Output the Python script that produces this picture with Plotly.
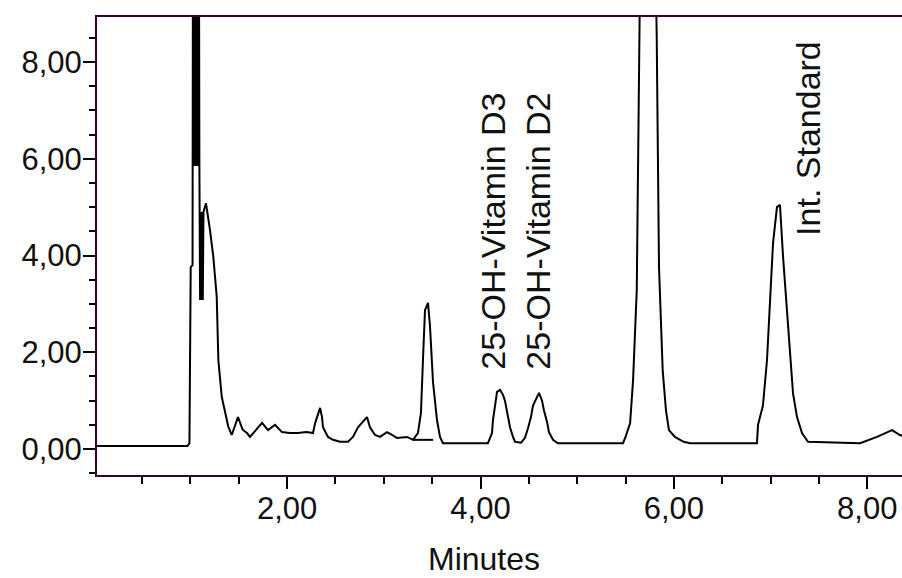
import plotly.graph_objects as go

# Chromatogram trace (minutes, signal)
time_min = [
    0.00, 0.97, 0.99, 1.003, 1.022,
    1.027, 1.033, 1.039, 1.045, 1.051, 1.057, 1.063, 1.069, 1.075, 1.081, 1.087, 1.093,
    1.100, 1.107, 1.114, 1.121, 1.128, 1.135, 1.161, 1.203, 1.237, 1.272, 1.289, 1.324,
    1.358, 1.392, 1.427, 1.492, 1.540, 1.585, 1.616, 1.741, 1.803, 1.875, 1.947, 2.030,
    2.113, 2.200, 2.268, 2.289, 2.341, 2.361, 2.371, 2.423, 2.475, 2.547, 2.630, 2.681,
    2.733, 2.826, 2.857, 2.909, 2.961, 3.033, 3.085, 3.136, 3.240, 3.302, 3.353, 3.384,
    3.405, 3.426, 3.457, 3.477, 3.509, 3.550, 3.581, 3.612,
    4.077, 4.119, 4.129, 4.150, 4.171, 4.202, 4.233, 4.253, 4.274, 4.305, 4.336, 4.357,
    4.420, 4.460, 4.491, 4.522, 4.543, 4.584, 4.605, 4.636, 4.656, 4.688, 4.708, 4.750,
    4.800,
    5.474, 5.500, 5.547, 5.578, 5.616, 5.640, 5.667, 5.720, 5.770, 5.800, 5.822, 5.846,
    5.884, 5.918, 5.949, 6.011, 6.100, 6.167,
    6.859, 6.870, 6.921, 6.963, 6.994, 7.025, 7.066, 7.097, 7.128, 7.170, 7.201, 7.232,
    7.273, 7.325, 7.387, 7.925, 8.101, 8.256, 8.337, 8.400,
]
signal = [
    0.06, 0.06, 0.12, 3.76, 3.80,
    12.0, 5.85, 12.0, 5.85, 12.0, 5.85, 12.0, 5.85, 12.0, 5.85, 12.0, 5.83,
    3.08, 4.90, 3.08, 4.90, 3.08, 4.90, 5.08, 4.52, 3.97, 3.15, 1.84, 1.08,
    0.74, 0.46, 0.29, 0.66, 0.40, 0.33, 0.25, 0.54, 0.39, 0.50, 0.35, 0.33,
    0.33, 0.35, 0.33, 0.53, 0.85, 0.66, 0.45, 0.25, 0.19, 0.15, 0.15, 0.25,
    0.45, 0.66, 0.45, 0.29, 0.25, 0.35, 0.29, 0.23, 0.25, 0.19, 0.33, 0.74,
    1.84, 2.87, 3.02, 2.56, 1.38, 0.60, 0.25, 0.12,
    0.12, 0.33, 0.60, 0.95, 1.18, 1.22, 1.12, 1.00, 0.77, 0.45, 0.25, 0.15,
    0.13, 0.23, 0.43, 0.66, 0.90, 1.07, 1.16, 1.00, 0.80, 0.56, 0.35, 0.19,
    0.12,
    0.12, 0.25, 0.53, 1.43, 3.29, 7.35, 13.0, 17.0, 16.0, 11.0, 8.60, 3.76,
    1.63, 0.80, 0.39, 0.25, 0.15, 0.12,
    0.12, 0.50, 0.90, 1.84, 2.97, 4.25, 5.00, 5.05, 4.00, 2.90, 1.90, 1.15,
    0.66, 0.33, 0.15, 0.12, 0.25, 0.39, 0.29, 0.25,
]

# Integration baseline drawn under the 3.45 min peak
base_x = [3.30, 3.51]
base_y = [0.19, 0.19]

# Peak labels
peak_labels = ["25-OH-Vitamin D3", "25-OH-Vitamin D2", "Int. Standard"]
label_x = [4.13, 4.595, 7.38]
label_y = [1.59, 1.59, 4.36]

x_tickvals = [2, 4, 6, 8]
y_tickvals = [0, 2, 4, 6, 8]
x_range = [0.034, 8.359]
y_range = [-0.537, 8.93]

FONT = "Liberation Sans, Arial, sans-serif"
AXIS_COLOR = "#330033"
TEXT_COLOR = "#111111"

fig = go.Figure()
fig.add_trace(go.Scatter(x=time_min, y=signal, mode="lines",
                         line=dict(color="black", width=2), hoverinfo="skip"))
fig.add_trace(go.Scatter(x=base_x, y=base_y, mode="lines",
                         line=dict(color="black", width=2), hoverinfo="skip"))

for txt, lx, ly in zip(peak_labels, label_x, label_y):
    fig.add_annotation(x=lx, y=ly, xref="x", yref="y", text=txt, showarrow=False,
                       textangle=-90, xanchor="center", yanchor="bottom",
                       font=dict(family=FONT, size=34, color=TEXT_COLOR))

fig.add_annotation(x=0.4807, y=-0.183, xref="paper", yref="paper", text="Minutes",
                   showarrow=False, xanchor="center", yanchor="middle",
                   font=dict(family=FONT, size=32, color=TEXT_COLOR))

axis_common = dict(
    showgrid=False, zeroline=False, showline=True, linecolor=AXIS_COLOR, linewidth=2,
    ticks="outside", ticklen=12, tickwidth=2, tickcolor="black",
    tickformat=".2f", tickfont=dict(family=FONT, size=31, color=TEXT_COLOR),
)

fig.update_layout(
    width=902, height=578,
    margin=dict(l=97, r=0, t=17, b=103, pad=0),
    paper_bgcolor="white", plot_bgcolor="white",
    separators=",.",
    showlegend=False,
    xaxis=dict(range=x_range, tickmode="array", tickvals=x_tickvals, mirror=True,
               ticklabelstandoff=-7,
               minor=dict(dtick=0.5, tick0=0, ticks="outside", ticklen=7, tickwidth=2,
                          tickcolor="black", showgrid=False),
               **axis_common),
    yaxis=dict(range=y_range, tickmode="array", tickvals=y_tickvals,
               ticklabelstandoff=-5,
               minor=dict(dtick=0.5, tick0=0, ticks="outside", ticklen=6, tickwidth=2,
                          tickcolor="black", showgrid=False),
               **axis_common),
)

fig.write_html("out.html")
